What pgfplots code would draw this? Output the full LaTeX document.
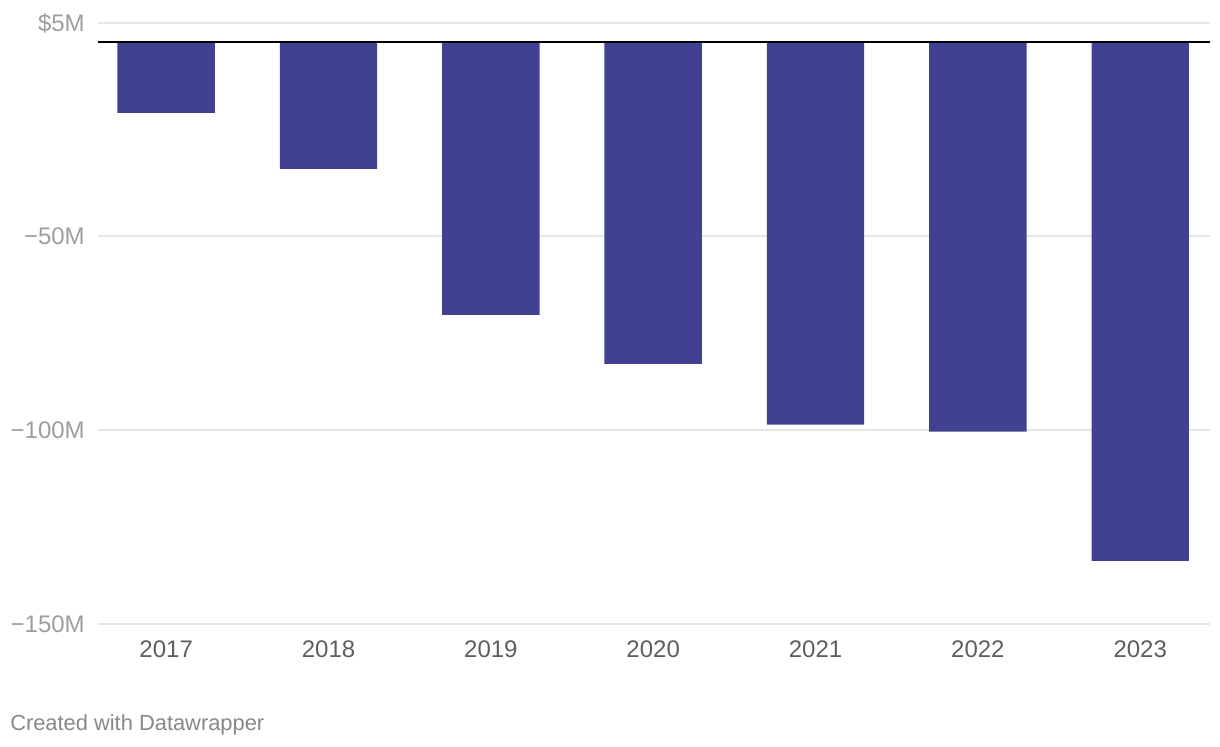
\documentclass[border=0pt]{standalone}
\usepackage{fontspec}
\setmainfont{Liberation Sans}
\usepackage{pgfplots}
\pgfplotsset{compat=1.18}
\definecolor{barc}{RGB}{64,66,145}
\definecolor{gridc}{RGB}{230,230,230}
\definecolor{ylab}{RGB}{158,158,158}
\definecolor{xlab}{RGB}{94,94,94}
\definecolor{note}{RGB}{136,136,136}
\begin{document}
\begin{tikzpicture}
\path[use as bounding box] (0,0) rectangle (915pt,559.5pt);
\begin{axis}[
  at={(73.5pt,91.5pt)}, anchor=south west,
  scale only axis, width=834pt, height=450.75pt,
  xmin=-0.42, xmax=6.43, ymin=-150, ymax=5,
  axis line style={draw=none},
  major tick length=0pt,
  xtick={0,1,2,3,4,5,6},
  xticklabels={2017,2018,2019,2020,2021,2022,2023},
  ytick={-150,-100,-50,5},
  yticklabels={−150M,−100M,−50M,\$5M},
  ymajorgrids, grid style={gridc, line width=1.5pt},
  xticklabel style={font=\fontsize{18pt}{21pt}\selectfont, text=xlab, anchor=north, inner sep=0pt, yshift=-12.5pt},
  yticklabel style={font=\fontsize{18pt}{21pt}\selectfont, text=ylab, anchor=east, inner sep=0pt, xshift=-9.75pt},
  /pgf/number format/assume math mode=true,
  clip=false,
]
\addplot[ybar, bar width=0.6, fill=barc, draw=none] coordinates {
 (0,-18.2) (1,-32.6) (2,-70.3) (3,-82.9) (4,-98.6) (5,-100.4) (6,-133.7)
};
\draw[black, line width=1.5pt] (axis cs:-0.42,0) -- (axis cs:6.43,0);
\end{axis}
\node[anchor=base west, inner sep=0pt, text=note, font=\fontsize{16.4pt}{19pt}\selectfont] at (7.5pt,12pt) {Created with Datawrapper};
\end{tikzpicture}
\end{document}
